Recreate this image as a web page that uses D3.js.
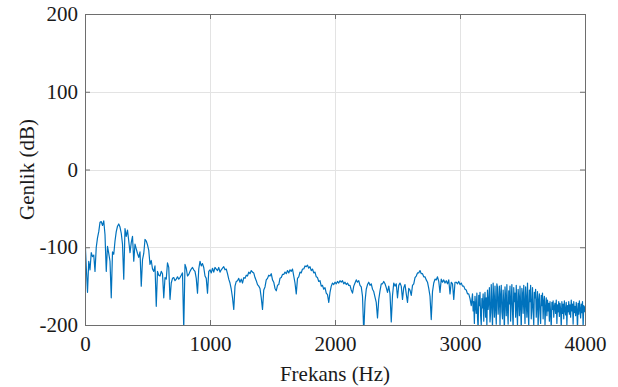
<!DOCTYPE html>
<html>
<head>
<meta charset="utf-8">
<script src="https://cdn.jsdelivr.net/npm/d3@7"></script>
</head>
<body style="margin:0">
<div id="app"></div>
<script>
// 0 - 3090 Hz, 10 Hz adim
const lowStep = 10;
const genlikLow = [
  -88, -125, -158, -118, -129, -107, -112, -110, -131, -100, -88, -80, -68, -67, -72, -66, -84, -131, -99, -108,
  -118, -165, -106, -109, -92, -80, -73, -70, -74, -82, -96, -141, -76, -86, -78, -92, -107, -94, -86, -118,
  -96, -102, -108, -113, -106, -150, -116, -108, -90, -92, -97, -104, -122, -117, -128, -131, -124, -176, -131, -136,
  -137, -131, -134, -165, -139, -141, -120, -126, -167, -146, -140, -139, -143, -141, -138, -141, -139, -136, -133, -205,
  -122, -127, -137, -135, -131, -128, -126, -129, -131, -140, -159, -128, -118, -124, -121, -126, -137, -140, -159, -131,
  -129, -133, -127, -132, -126, -128, -130, -126, -132, -129, -127, -125, -129, -128, -134, -141, -146, -154, -165, -180,
  -150, -144, -143, -140, -145, -141, -146, -139, -140, -136, -137, -132, -134, -130, -132, -133, -139, -143, -148, -150,
  -153, -165, -180, -155, -151, -142, -140, -136, -137, -134, -142, -145, -153, -156, -149, -148, -140, -139, -135, -135,
  -132, -134, -130, -133, -129, -131, -128, -137, -146, -160, -140, -138, -132, -133, -128, -128, -124, -125, -123, -127,
  -125, -130, -128, -133, -132, -138, -139, -144, -143, -150, -149, -154, -152, -159, -161, -171, -158, -150, -146, -148,
  -145, -147, -144, -146, -143, -145, -143, -147, -145, -148, -146, -149, -149, -155, -159, -150, -146, -142, -145, -143,
  -149, -151, -163, -210, -170, -154, -148, -145, -149, -147, -154, -157, -164, -171, -191, -167, -156, -147, -147, -144,
  -147, -152, -158, -150, -160, -196, -162, -146, -150, -147, -165, -149, -146, -150, -167, -152, -148, -160, -171, -153,
  -155, -162, -149, -147, -139, -137, -133, -133, -130, -134, -134, -138, -138, -142, -145, -153, -163, -193, -157, -146,
  -141, -142, -138, -144, -158, -141, -145, -142, -146, -143, -147, -142, -160, -145, -147, -167, -145, -145, -147, -144,
  -148, -146, -150, -150, -154, -155, -160, -160, -166, -175
];

// 3100 - 4000 Hz, 5 Hz adim (gurultulu bolge)
const highStart = 3100;
const highStep = 5;
const genlikHigh = [
  -160, -182, -170, -198, -163, -176, -185, -159, -190, -205, -162, -175, -158, -188, -200, -166, -178, -160, -195, -172,
  -158, -190, -165, -201, -155, -180, -170, -152, -196, -184, -148, -175, -205, -146, -168, -190, -150, -178, -199, -147,
  -152, -186, -170, -150, -200, -162, -149, -183, -192, -155, -171, -210, -151, -165, -188, -148, -180, -199, -156, -173,
  -150, -195, -168, -148, -182, -204, -152, -170, -159, -190, -149, -178, -201, -154, -166, -188, -150, -175, -207, -153,
  -160, -185, -149, -172, -198, -151, -168, -190, -146, -180, -203, -155, -170, -149, -192, -176, -152, -183, -200, -158,
  -165, -154, -190, -172, -157, -205, -168, -160, -185, -198, -162, -175, -159, -192, -170, -163, -200, -178, -165, -188,
  -168, -182, -172, -195, -170, -186, -203, -171, -180, -169, -190, -176, -172, -185, -168, -198, -174, -183, -170, -189,
  -172, -180, -204, -170, -185, -173, -192, -169, -181, -187, -171, -200, -175, -183, -170, -186, -174, -190, -168, -182,
  -173, -199, -170, -184, -176, -188, -171, -181, -205, -172, -186, -169, -180, -191, -173, -184, -170, -202, -175, -183,
  -176
];

const xTicks = [0, 1000, 2000, 3000, 4000];
const yTicks = [-200, -100, 0, 100, 200];

// iki bolgeyi [frekans, genlik] noktalarina cevir
const points = genlikLow.map((v, i) => [i * lowStep, v])
  .concat(genlikHigh.map((v, i) => [highStart + i * highStep, v]));

const width = 618;
const height = 387;
const margin = { left: 85, right: 33, top: 14, bottom: 62 };
const innerW = width - margin.left - margin.right;
const innerH = height - margin.top - margin.bottom;

const svg = d3.select("#app")
  .append("svg")
  .attr("width", width)
  .attr("height", height);

const x = d3.scaleLinear().domain([0, 4000]).range([margin.left, margin.left + innerW]);
const y = d3.scaleLinear().domain([-200, 200]).range([margin.top + innerH, margin.top]);

// izgara
const grid = svg.append("g").attr("stroke", "#e3e3e3").attr("stroke-width", 1);
xTicks.slice(1, -1).forEach(t => {
  grid.append("line")
    .attr("x1", Math.round(x(t)) + 0.5).attr("x2", Math.round(x(t)) + 0.5)
    .attr("y1", y(-200)).attr("y2", y(200));
});
yTicks.slice(1, -1).forEach(t => {
  grid.append("line")
    .attr("x1", x(0)).attr("x2", x(4000))
    .attr("y1", Math.round(y(t)) + 0.5).attr("y2", Math.round(y(t)) + 0.5);
});

// sinyal
svg.append("clipPath").attr("id", "clip")
  .append("rect")
  .attr("x", x(0)).attr("y", y(200))
  .attr("width", innerW).attr("height", innerH);

const line = d3.line()
  .x(d => x(d[0]))
  .y(d => y(d[1]));

svg.append("path")
  .datum(points)
  .attr("clip-path", "url(#clip)")
  .attr("fill", "none")
  .attr("stroke", "#0072BD")
  .attr("stroke-width", 1.2)
  .attr("stroke-linejoin", "round")
  .attr("d", line);

// eksenler (MATLAB tarzi, tikler iceride)
const axisColor = "#6e6e6e";
const fmt = d => String(d);
const xAxis = svg.append("g")
  .attr("transform", `translate(0,${y(-200)})`)
  .call(d3.axisBottom(x).tickValues(xTicks).tickSize(-5).tickPadding(11).tickFormat(fmt));
const xAxisTop = svg.append("g")
  .attr("transform", `translate(0,${y(200)})`)
  .call(d3.axisTop(x).tickValues(xTicks).tickSize(-5).tickFormat(""));
const yAxis = svg.append("g")
  .attr("transform", `translate(${x(0)},0)`)
  .call(d3.axisLeft(y).tickValues(yTicks).tickSize(-5).tickPadding(7).tickFormat(fmt));
const yAxisRight = svg.append("g")
  .attr("transform", `translate(${x(4000)},0)`)
  .call(d3.axisRight(y).tickValues(yTicks).tickSize(-5).tickFormat(""));

[xAxis, xAxisTop, yAxis, yAxisRight].forEach(a => {
  a.select(".domain").attr("stroke", axisColor);
  a.selectAll(".tick line").attr("stroke", axisColor);
  a.selectAll("text")
    .style("font-family", "'Times New Roman'")
    .style("font-size", "21px")
    .attr("fill", "#1a1a1a");
});

// eksen basliklari
svg.append("text")
  .attr("x", x(2000))
  .attr("y", 381)
  .attr("text-anchor", "middle")
  .style("font-family", "'Liberation Serif'")
  .style("font-size", "21px")
  .attr("fill", "#1a1a1a")
  .text("Frekans (Hz)");

svg.append("text")
  .attr("transform", `translate(34,${y(0)}) rotate(-90)`)
  .attr("text-anchor", "middle")
  .style("font-family", "Tinos")
  .style("font-size", "21px")
  .attr("fill", "#1a1a1a")
  .text("Genlik (dB)");
</script>
</body>
</html>
